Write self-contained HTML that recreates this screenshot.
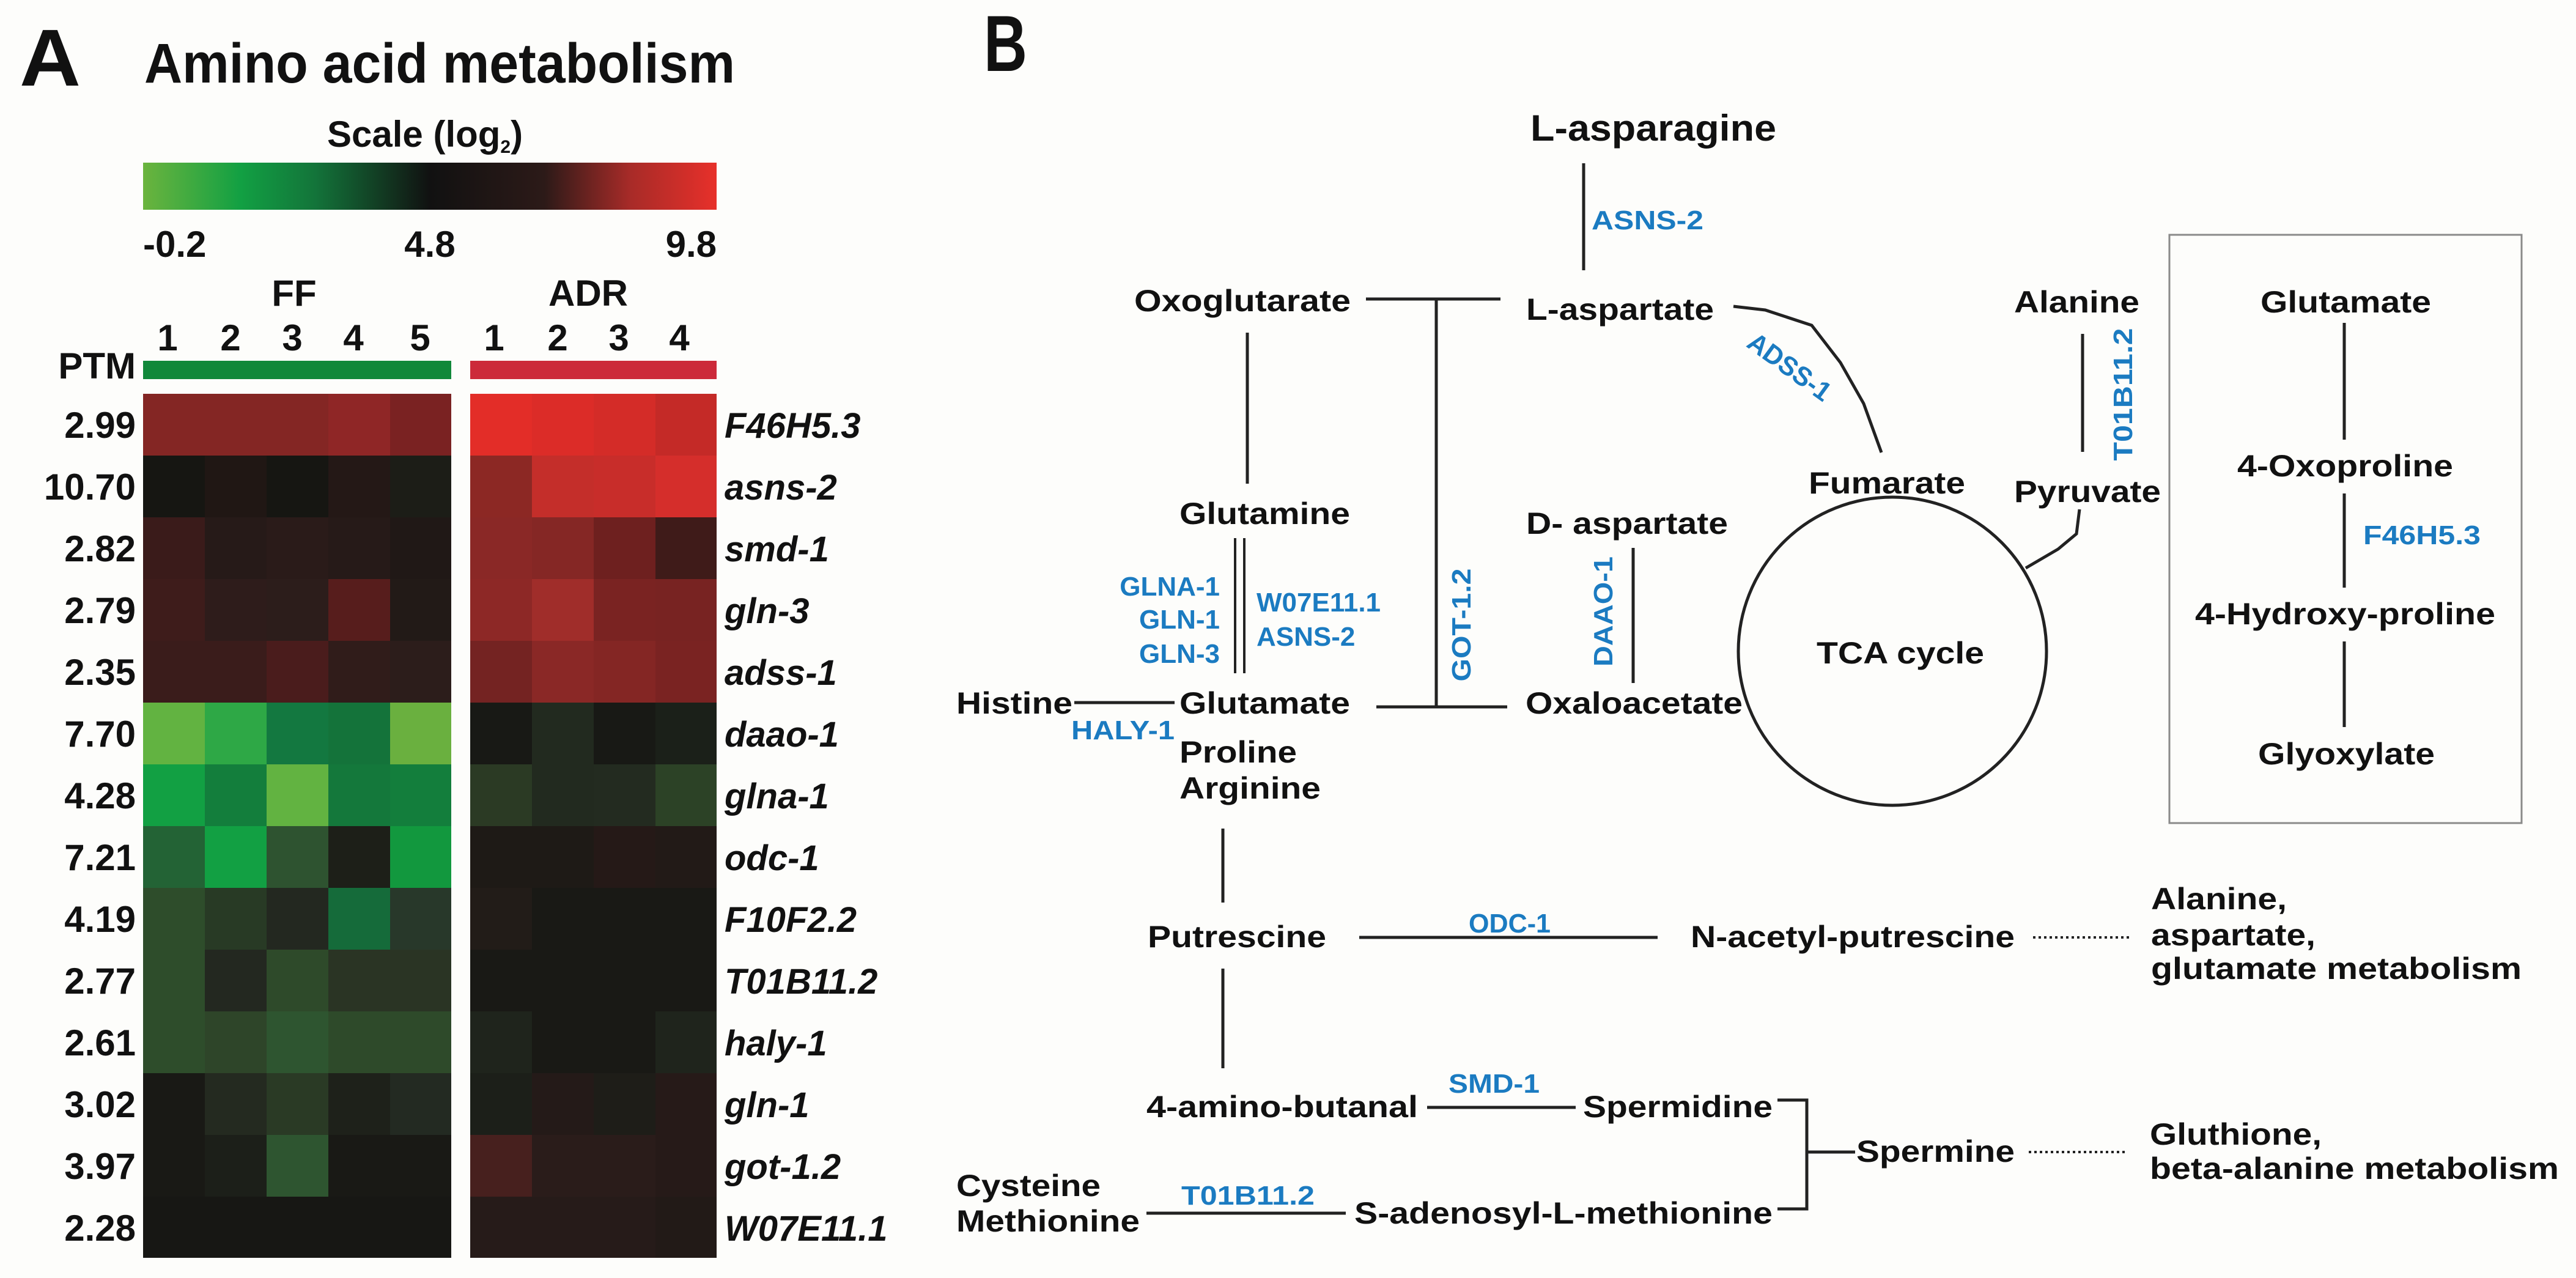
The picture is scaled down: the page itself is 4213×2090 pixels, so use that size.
<!DOCTYPE html>
<html><head><meta charset="utf-8"><style>
html,body{margin:0;padding:0;background:#fdfdfb;}
svg{display:block;}
text{font-family:"Liberation Sans",Arial,sans-serif;}
.n{font-weight:bold;font-size:50px;fill:#111;}
.b{font-weight:bold;font-size:44px;fill:#1b7bc1;}
.l{stroke:#222;stroke-width:5;fill:none;}
.h{font-weight:bold;font-size:60px;fill:#111;}
.g{font-weight:bold;font-style:italic;font-size:58px;fill:#111;}
</style></head><body>
<svg width="4213" height="2090" viewBox="0 0 4213 2090" xmlns="http://www.w3.org/2000/svg">
<defs>
<linearGradient id="sc" x1="0" x2="1" y1="0" y2="0">
<stop offset="0" stop-color="#6bb43e"/>
<stop offset="0.17" stop-color="#12a043"/>
<stop offset="0.3" stop-color="#13743a"/>
<stop offset="0.5" stop-color="#111111"/>
<stop offset="0.7" stop-color="#2c1a18"/>
<stop offset="0.85" stop-color="#a82b28"/>
<stop offset="1" stop-color="#e7302a"/>
</linearGradient>
</defs>
<rect width="4213" height="2090" fill="#fdfdfb"/>
<!-- Panel A -->
<text x="32" y="140" font-weight="bold" font-size="132" fill="#111" textLength="100" lengthAdjust="spacingAndGlyphs">A</text>
<text x="236" y="135" font-weight="bold" font-size="92" fill="#111" textLength="966" lengthAdjust="spacingAndGlyphs">Amino acid metabolism</text>
<text x="535" y="240" class="h" font-size="54">Scale (log<tspan font-size="30" dy="10">2</tspan><tspan dy="-10">)</tspan></text>
<rect x="234" y="266" width="938" height="77" fill="url(#sc)"/>
<text x="234" y="420" class="h">-0.2</text>
<text x="703" y="420" class="h" text-anchor="middle">4.8</text>
<text x="1172" y="420" class="h" text-anchor="end">9.8</text>
<text x="481" y="500" class="h" text-anchor="middle">FF</text>
<text x="962" y="500" class="h" text-anchor="middle">ADR</text>
<g class="h" text-anchor="middle">
<text x="274" y="573">1</text><text x="377" y="573">2</text><text x="478" y="573">3</text><text x="578" y="573">4</text><text x="687" y="573">5</text>
<text x="808" y="573">1</text><text x="912" y="573">2</text><text x="1012" y="573">3</text><text x="1111" y="573">4</text>
</g>
<text x="222" y="619" class="h" text-anchor="end">PTM</text>
<rect x="234" y="590" width="504" height="30" fill="#11883a"/>
<rect x="769" y="590" width="403" height="30" fill="#cc2a3a"/>
<g class="h" text-anchor="end" font-size="62">
<text x="222" y="716">2.99</text><text x="222" y="817">10.70</text><text x="222" y="918">2.82</text><text x="222" y="1019">2.79</text><text x="222" y="1120">2.35</text><text x="222" y="1221">7.70</text><text x="222" y="1322">4.28</text><text x="222" y="1423">7.21</text><text x="222" y="1524">4.19</text><text x="222" y="1625">2.77</text><text x="222" y="1726">2.61</text><text x="222" y="1827">3.02</text><text x="222" y="1928">3.97</text><text x="222" y="2029">2.28</text>
</g>
<g class="g">
<text x="1185" y="716">F46H5.3</text><text x="1185" y="817">asns-2</text><text x="1185" y="918">smd-1</text><text x="1185" y="1019">gln-3</text><text x="1185" y="1120">adss-1</text><text x="1185" y="1221">daao-1</text><text x="1185" y="1322">glna-1</text><text x="1185" y="1423">odc-1</text><text x="1185" y="1524">F10F2.2</text><text x="1185" y="1625">T01B11.2</text><text x="1185" y="1726">haly-1</text><text x="1185" y="1827">gln-1</text><text x="1185" y="1928">got-1.2</text><text x="1185" y="2029">W07E11.1</text>
</g>
<g shape-rendering="crispEdges">
<rect x="234" y="644" width="101" height="102" fill="#842624"/><rect x="335" y="644" width="101" height="102" fill="#842624"/><rect x="436" y="644" width="101" height="102" fill="#842624"/><rect x="537" y="644" width="101" height="102" fill="#8f2626"/><rect x="638" y="644" width="100" height="102" fill="#7a2222"/>
<rect x="769" y="644" width="101" height="102" fill="#e32d28"/><rect x="870" y="644" width="101" height="102" fill="#dc2c28"/><rect x="971" y="644" width="101" height="102" fill="#d42c28"/><rect x="1072" y="644" width="100" height="102" fill="#c42a27"/>
<rect x="234" y="745" width="101" height="102" fill="#161612"/><rect x="335" y="745" width="101" height="102" fill="#201714"/><rect x="436" y="745" width="101" height="102" fill="#161612"/><rect x="537" y="745" width="101" height="102" fill="#241816"/><rect x="638" y="745" width="100" height="102" fill="#1c1d17"/>
<rect x="769" y="745" width="101" height="102" fill="#8c2824"/><rect x="870" y="745" width="101" height="102" fill="#c42e2a"/><rect x="971" y="745" width="101" height="102" fill="#c82d2a"/><rect x="1072" y="745" width="100" height="102" fill="#d52e2b"/>
<rect x="234" y="846" width="101" height="102" fill="#3a1b1a"/><rect x="335" y="846" width="101" height="102" fill="#261a18"/><rect x="436" y="846" width="101" height="102" fill="#2a1b19"/><rect x="537" y="846" width="101" height="102" fill="#261a18"/><rect x="638" y="846" width="100" height="102" fill="#201816"/>
<rect x="769" y="846" width="101" height="102" fill="#8a2826"/><rect x="870" y="846" width="101" height="102" fill="#852725"/><rect x="971" y="846" width="101" height="102" fill="#6e201f"/><rect x="1072" y="846" width="100" height="102" fill="#3f1b19"/>
<rect x="234" y="947" width="101" height="102" fill="#3e1c1b"/><rect x="335" y="947" width="101" height="102" fill="#2e1c1b"/><rect x="436" y="947" width="101" height="102" fill="#2c1d1b"/><rect x="537" y="947" width="101" height="102" fill="#571d1c"/><rect x="638" y="947" width="100" height="102" fill="#221a17"/>
<rect x="769" y="947" width="101" height="102" fill="#8d2826"/><rect x="870" y="947" width="101" height="102" fill="#a02d2a"/><rect x="971" y="947" width="101" height="102" fill="#7a2322"/><rect x="1072" y="947" width="100" height="102" fill="#782322"/>
<rect x="234" y="1048" width="101" height="102" fill="#3a1c1b"/><rect x="335" y="1048" width="101" height="102" fill="#3a1c1b"/><rect x="436" y="1048" width="101" height="102" fill="#4a1c1c"/><rect x="537" y="1048" width="101" height="102" fill="#301c1a"/><rect x="638" y="1048" width="100" height="102" fill="#2c1d1b"/>
<rect x="769" y="1048" width="101" height="102" fill="#742322"/><rect x="870" y="1048" width="101" height="102" fill="#8a2826"/><rect x="971" y="1048" width="101" height="102" fill="#842624"/><rect x="1072" y="1048" width="100" height="102" fill="#7a2322"/>
<rect x="234" y="1149" width="101" height="102" fill="#62b341"/><rect x="335" y="1149" width="101" height="102" fill="#2ea846"/><rect x="436" y="1149" width="101" height="102" fill="#137840"/><rect x="537" y="1149" width="101" height="102" fill="#14733a"/><rect x="638" y="1149" width="100" height="102" fill="#6ab03f"/>
<rect x="769" y="1149" width="101" height="102" fill="#181915"/><rect x="870" y="1149" width="101" height="102" fill="#222a1f"/><rect x="971" y="1149" width="101" height="102" fill="#181915"/><rect x="1072" y="1149" width="100" height="102" fill="#1b2019"/>
<rect x="234" y="1250" width="101" height="102" fill="#12a043"/><rect x="335" y="1250" width="101" height="102" fill="#137e3c"/><rect x="436" y="1250" width="101" height="102" fill="#62b341"/><rect x="537" y="1250" width="101" height="102" fill="#14783b"/><rect x="638" y="1250" width="100" height="102" fill="#137e3c"/>
<rect x="769" y="1250" width="101" height="102" fill="#2b3a24"/><rect x="870" y="1250" width="101" height="102" fill="#222a1f"/><rect x="971" y="1250" width="101" height="102" fill="#232b20"/><rect x="1072" y="1250" width="100" height="102" fill="#2c4226"/>
<rect x="234" y="1351" width="101" height="102" fill="#236335"/><rect x="335" y="1351" width="101" height="102" fill="#12a043"/><rect x="436" y="1351" width="101" height="102" fill="#2e5330"/><rect x="537" y="1351" width="101" height="102" fill="#1d1f18"/><rect x="638" y="1351" width="100" height="102" fill="#12983e"/>
<rect x="769" y="1351" width="101" height="102" fill="#1e1a16"/><rect x="870" y="1351" width="101" height="102" fill="#1e1a16"/><rect x="971" y="1351" width="101" height="102" fill="#251917"/><rect x="1072" y="1351" width="100" height="102" fill="#221a17"/>
<rect x="234" y="1452" width="101" height="102" fill="#2e4d2b"/><rect x="335" y="1452" width="101" height="102" fill="#283a25"/><rect x="436" y="1452" width="101" height="102" fill="#232820"/><rect x="537" y="1452" width="101" height="102" fill="#156b3a"/><rect x="638" y="1452" width="100" height="102" fill="#28382a"/>
<rect x="769" y="1452" width="101" height="102" fill="#221c18"/><rect x="870" y="1452" width="101" height="102" fill="#191915"/><rect x="971" y="1452" width="101" height="102" fill="#191915"/><rect x="1072" y="1452" width="100" height="102" fill="#191915"/>
<rect x="234" y="1553" width="101" height="102" fill="#2e4d2b"/><rect x="335" y="1553" width="101" height="102" fill="#232820"/><rect x="436" y="1553" width="101" height="102" fill="#2e4a2a"/><rect x="537" y="1553" width="101" height="102" fill="#2a3424"/><rect x="638" y="1553" width="100" height="102" fill="#2a3424"/>
<rect x="769" y="1553" width="403" height="102" fill="#191915"/>
<rect x="234" y="1654" width="101" height="102" fill="#2e4d2b"/><rect x="335" y="1654" width="101" height="102" fill="#2e4529"/><rect x="436" y="1654" width="101" height="102" fill="#2e5530"/><rect x="537" y="1654" width="101" height="102" fill="#2e4a2a"/><rect x="638" y="1654" width="100" height="102" fill="#2e4a2a"/>
<rect x="769" y="1654" width="101" height="102" fill="#1f241c"/><rect x="870" y="1654" width="101" height="102" fill="#191915"/><rect x="971" y="1654" width="101" height="102" fill="#191915"/><rect x="1072" y="1654" width="100" height="102" fill="#1f241c"/>
<rect x="234" y="1755" width="101" height="102" fill="#191915"/><rect x="335" y="1755" width="101" height="102" fill="#242a20"/><rect x="436" y="1755" width="101" height="102" fill="#2a3a25"/><rect x="537" y="1755" width="101" height="102" fill="#1e211a"/><rect x="638" y="1755" width="100" height="102" fill="#232a22"/>
<rect x="769" y="1755" width="101" height="102" fill="#1c1f19"/><rect x="870" y="1755" width="101" height="102" fill="#241a18"/><rect x="971" y="1755" width="101" height="102" fill="#1e1d18"/><rect x="1072" y="1755" width="100" height="102" fill="#261a18"/>
<rect x="234" y="1856" width="101" height="102" fill="#191915"/><rect x="335" y="1856" width="101" height="102" fill="#1c1f19"/><rect x="436" y="1856" width="101" height="102" fill="#2e5530"/><rect x="537" y="1856" width="101" height="102" fill="#191915"/><rect x="638" y="1856" width="100" height="102" fill="#191915"/>
<rect x="769" y="1856" width="101" height="102" fill="#47201e"/><rect x="870" y="1856" width="101" height="102" fill="#2a1c1a"/><rect x="971" y="1856" width="101" height="102" fill="#2a1c1a"/><rect x="1072" y="1856" width="100" height="102" fill="#261a18"/>
<rect x="234" y="1957" width="504" height="100" fill="#171714"/>
<rect x="769" y="1957" width="303" height="100" fill="#261b19"/><rect x="1072" y="1957" width="100" height="100" fill="#221a17"/>
</g>

<!-- Panel B -->
<text x="1609" y="116" font-weight="bold" font-size="130" fill="#111" textLength="71" lengthAdjust="spacingAndGlyphs">B</text>
<g class="n">
<text x="2503" y="230" font-size="60" textLength="402" lengthAdjust="spacingAndGlyphs">L-asparagine</text>
<text x="1855" y="509" textLength="354" lengthAdjust="spacingAndGlyphs">Oxoglutarate</text>
<text x="2496" y="523" textLength="307" lengthAdjust="spacingAndGlyphs">L-aspartate</text>
<text x="1929" y="857" textLength="279" lengthAdjust="spacingAndGlyphs">Glutamine</text>
<text x="2496" y="873" textLength="330" lengthAdjust="spacingAndGlyphs">D- aspartate</text>
<text x="2958" y="807" textLength="256" lengthAdjust="spacingAndGlyphs">Fumarate</text>
<text x="3294" y="511" textLength="205" lengthAdjust="spacingAndGlyphs">Alanine</text>
<text x="3294" y="821" textLength="240" lengthAdjust="spacingAndGlyphs">Pyruvate</text>
<text x="3697" y="511" textLength="279" lengthAdjust="spacingAndGlyphs">Glutamate</text>
<text x="3659" y="779" textLength="353" lengthAdjust="spacingAndGlyphs">4-Oxoproline</text>
<text x="3590" y="1021" textLength="491" lengthAdjust="spacingAndGlyphs">4-Hydroxy-proline</text>
<text x="3693" y="1250" textLength="289" lengthAdjust="spacingAndGlyphs">Glyoxylate</text>
<text x="2971" y="1085" textLength="274" lengthAdjust="spacingAndGlyphs">TCA cycle</text>
<text x="1564" y="1167" textLength="190" lengthAdjust="spacingAndGlyphs">Histine</text>
<text x="1929" y="1167" textLength="279" lengthAdjust="spacingAndGlyphs">Glutamate</text>
<text x="2495" y="1167" textLength="355" lengthAdjust="spacingAndGlyphs">Oxaloacetate</text>
<text x="1929" y="1247" textLength="192" lengthAdjust="spacingAndGlyphs">Proline</text>
<text x="1929" y="1306" textLength="231" lengthAdjust="spacingAndGlyphs">Arginine</text>
<text x="1877" y="1549" textLength="292" lengthAdjust="spacingAndGlyphs">Putrescine</text>
<text x="2765" y="1549" textLength="530" lengthAdjust="spacingAndGlyphs">N-acetyl-putrescine</text>
<text x="1875" y="1827" textLength="444" lengthAdjust="spacingAndGlyphs">4-amino-butanal</text>
<text x="2589" y="1827" textLength="310" lengthAdjust="spacingAndGlyphs">Spermidine</text>
<text x="3036" y="1900" textLength="259" lengthAdjust="spacingAndGlyphs">Spermine</text>
<text x="1564" y="1956" textLength="236" lengthAdjust="spacingAndGlyphs">Cysteine</text>
<text x="1564" y="2014" textLength="300" lengthAdjust="spacingAndGlyphs">Methionine</text>
<text x="2215" y="2001" textLength="684" lengthAdjust="spacingAndGlyphs">S-adenosyl-L-methionine</text>
<text x="3518" y="1487" textLength="222" lengthAdjust="spacingAndGlyphs">Alanine,</text>
<text x="3518" y="1546" textLength="269" lengthAdjust="spacingAndGlyphs">aspartate,</text>
<text x="3518" y="1601" textLength="606" lengthAdjust="spacingAndGlyphs">glutamate metabolism</text>
<text x="3516" y="1872" textLength="281" lengthAdjust="spacingAndGlyphs">Gluthione,</text>
<text x="3516" y="1928" textLength="669" lengthAdjust="spacingAndGlyphs">beta-alanine metabolism</text>
</g>
<g class="b">
<text x="2603" y="375" textLength="183" lengthAdjust="spacingAndGlyphs">ASNS-2</text>
<text x="1995" y="974" text-anchor="end">GLNA-1</text>
<text x="1995" y="1028" text-anchor="end">GLN-1</text>
<text x="1995" y="1084" text-anchor="end">GLN-3</text>
<text x="2055" y="1000">W07E11.1</text>
<text x="2055" y="1056">ASNS-2</text>
<text x="1752" y="1209" textLength="169" lengthAdjust="spacingAndGlyphs">HALY-1</text>
<text x="2402" y="1525" textLength="134" lengthAdjust="spacingAndGlyphs">ODC-1</text>
<text x="2369" y="1787" textLength="149" lengthAdjust="spacingAndGlyphs">SMD-1</text>
<text x="1932" y="1970" textLength="218" lengthAdjust="spacingAndGlyphs">T01B11.2</text>
<text x="3865" y="890" textLength="192" lengthAdjust="spacingAndGlyphs">F46H5.3</text>
<text transform="translate(2405,1022) rotate(-90)" text-anchor="middle" textLength="185" lengthAdjust="spacingAndGlyphs">GOT-1.2</text>
<text transform="translate(2637,1000) rotate(-90)" text-anchor="middle" textLength="180" lengthAdjust="spacingAndGlyphs">DAAO-1</text>
<text transform="translate(3487,645) rotate(-90)" text-anchor="middle" textLength="217" lengthAdjust="spacingAndGlyphs">T01B11.2</text>
<text transform="translate(2918,612) rotate(36)" text-anchor="middle" textLength="157" lengthAdjust="spacingAndGlyphs">ADSS-1</text>
</g>
<g class="l">
<line x1="2590" y1="267" x2="2590" y2="442"/>
<line x1="2234" y1="489" x2="2454" y2="489"/>
<line x1="2349" y1="489" x2="2349" y2="1156"/>
<line x1="2251" y1="1156" x2="2465" y2="1156"/>
<line x1="2040" y1="544" x2="2040" y2="791"/>
<line x1="2020" y1="880" x2="2020" y2="1101" stroke-width="4"/>
<line x1="2035" y1="880" x2="2035" y2="1101" stroke-width="4"/>
<line x1="1757" y1="1149" x2="1921" y2="1149"/>
<line x1="2671" y1="896" x2="2671" y2="1117"/>
<polyline points="2835,501 2887,507 2963,532 3010,593 3048,660 3077,740"/>
<line x1="3406" y1="546" x2="3406" y2="739"/>
<polyline points="3401,833 3396,873 3366,898 3313,929"/>
<circle cx="3095" cy="1065" r="252"/>
<line x1="3834" y1="528" x2="3834" y2="719"/>
<line x1="3834" y1="807" x2="3834" y2="961"/>
<line x1="3834" y1="1049" x2="3834" y2="1189"/>
<line x1="2000" y1="1355" x2="2000" y2="1476"/>
<line x1="2000" y1="1584" x2="2000" y2="1747"/>
<line x1="2223" y1="1533" x2="2711" y2="1533"/>
<line x1="2334" y1="1811" x2="2577" y2="1811"/>
<line x1="1875" y1="1984" x2="2201" y2="1984"/>
<polyline points="2907,1799 2955,1799 2955,1977 2907,1977"/>
<line x1="2955" y1="1884" x2="3034" y2="1884"/>
<line x1="3325" y1="1533" x2="3483" y2="1533" stroke-width="4" stroke-dasharray="4,5"/>
<line x1="3318" y1="1884" x2="3478" y2="1884" stroke-width="4" stroke-dasharray="4,5"/>
</g>
<rect x="3548" y="384" width="576" height="962" fill="none" stroke="#8a8a8a" stroke-width="3"/>
</svg>
</body></html>
